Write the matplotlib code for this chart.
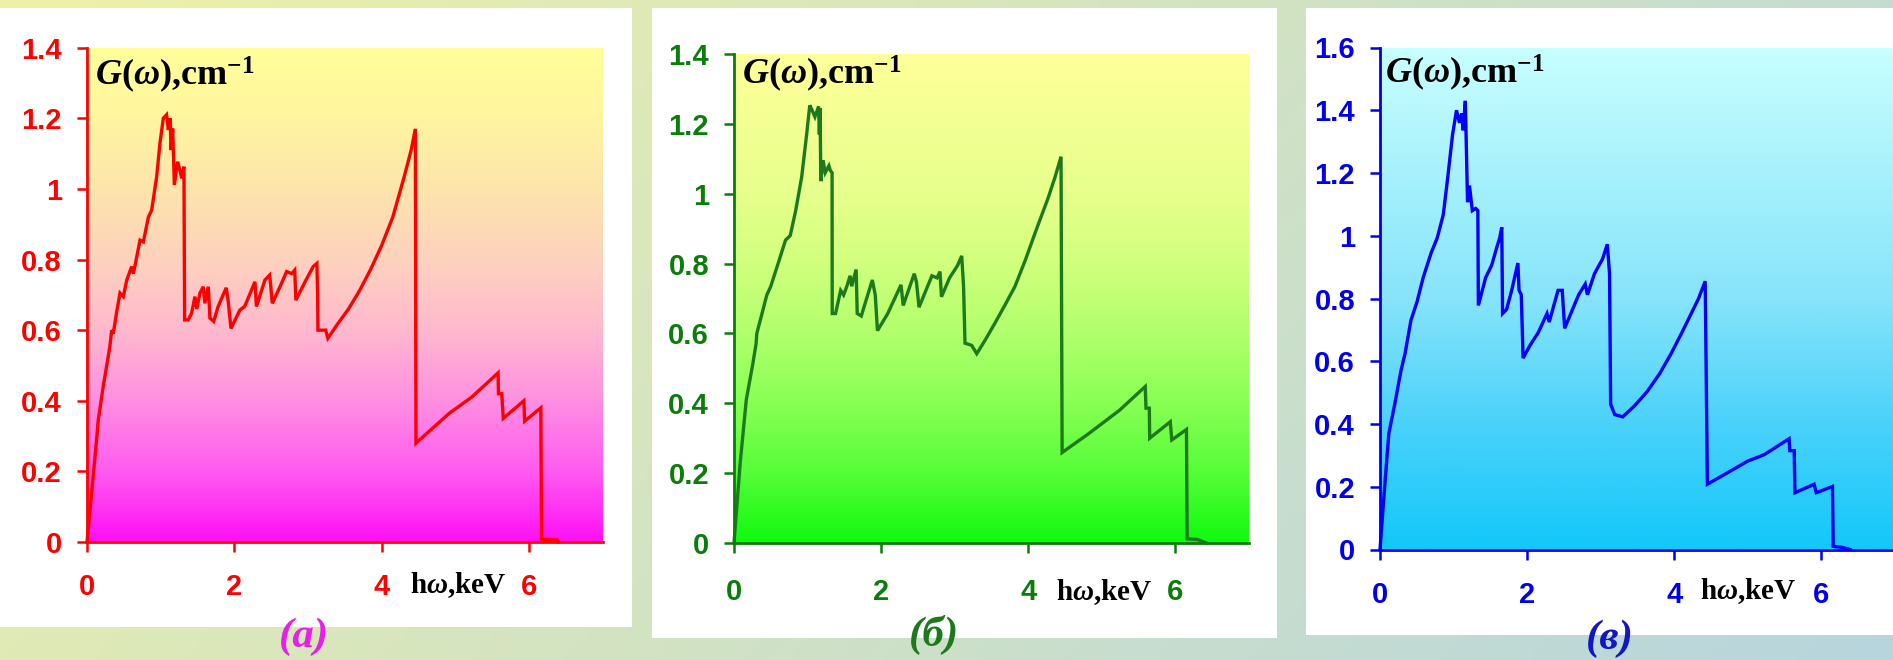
import numpy as np
import matplotlib
matplotlib.use("Agg")
import matplotlib.pyplot as plt
from matplotlib.colors import LinearSegmentedColormap
from matplotlib.patches import Rectangle

# ---------------- data ----------------
a_x = [0, 0.05, 0.13, 0.153, 0.22, 0.31, 0.335, 0.357, 0.40, 0.448,
       0.493, 0.54, 0.606, 0.63, 0.72, 0.765, 0.833, 0.878, 0.946, 0.99,
       1.036, 1.08, 1.104, 1.13, 1.14, 1.163, 1.186, 1.23, 1.26, 1.285,
       1.316, 1.325, 1.375, 1.42, 1.465, 1.49, 1.533, 1.578, 1.60, 1.646,
       1.669, 1.72, 1.78, 1.89, 1.92, 1.954, 2.076, 2.14, 2.28, 2.30,
       2.415, 2.48, 2.515, 2.62, 2.71, 2.78, 2.82, 2.835, 2.96, 3.07,
       3.12, 3.13, 3.135, 3.20, 3.24, 3.27, 3.40, 3.55, 3.70, 3.85,
       4.00, 4.15, 4.30, 4.40, 4.457, 4.465, 4.92, 5.22, 5.58, 5.585,
       5.63, 5.65, 5.93, 5.94, 6.16, 6.17, 6.38, 6.40]
a_y = [0, 0.11, 0.29, 0.346, 0.44, 0.553, 0.60, 0.59, 0.648, 0.705,
       0.695, 0.742, 0.78, 0.76, 0.855, 0.85, 0.92, 0.94, 1.035, 1.129,
       1.20, 1.21, 1.167, 1.20, 1.11, 1.171, 1.011, 1.077, 1.054, 1.03,
       1.063, 0.629, 0.629, 0.648, 0.695, 0.66, 0.705, 0.723, 0.676, 0.723,
       0.634, 0.625, 0.667, 0.72, 0.676, 0.605, 0.657, 0.667, 0.737, 0.667,
       0.742, 0.756, 0.676, 0.723, 0.766, 0.76, 0.77, 0.685, 0.737, 0.78,
       0.789, 0.705, 0.60, 0.60, 0.60, 0.577, 0.617, 0.66, 0.712, 0.772,
       0.84, 0.92, 1.03, 1.11, 1.17, 0.28, 0.365, 0.41, 0.479, 0.42,
       0.42, 0.35, 0.40, 0.342, 0.38, 0.008, 0.006, 0.0]

b_x = [0, 0.084, 0.167, 0.25, 0.30, 0.31, 0.36, 0.446, 0.50, 0.61,
       0.70, 0.764, 0.837, 0.92, 0.987, 1.03, 1.06, 1.10, 1.15, 1.16,
       1.17, 1.18, 1.21, 1.24, 1.29, 1.31, 1.333, 1.335, 1.38, 1.45,
       1.49, 1.534, 1.578, 1.60, 1.66, 1.675, 1.73, 1.88, 1.92, 1.95,
       2.09, 2.27, 2.30, 2.45, 2.48, 2.515, 2.69, 2.76, 2.80, 2.82,
       2.93, 3.04, 3.095, 3.12, 3.14, 3.23, 3.30, 3.42, 3.54, 3.68,
       3.82, 3.96, 4.10, 4.27, 4.36, 4.445, 4.46, 4.82, 5.24, 5.59,
       5.60, 5.645, 5.65, 5.93, 5.95, 6.15, 6.16, 6.30, 6.42]
b_y = [0, 0.229, 0.41, 0.506, 0.57, 0.60, 0.64, 0.71, 0.735, 0.807,
       0.867, 0.88, 0.95, 1.048, 1.169, 1.253, 1.24, 1.22, 1.25, 1.17,
       1.245, 1.036, 1.096, 1.06, 1.08, 1.066, 1.06, 0.657, 0.657, 0.723,
       0.71, 0.735, 0.765, 0.735, 0.783, 0.657, 0.65, 0.753, 0.71, 0.608,
       0.657, 0.739, 0.68, 0.771, 0.747, 0.675, 0.765, 0.759, 0.777, 0.705,
       0.759, 0.795, 0.822, 0.735, 0.572, 0.566, 0.542, 0.583, 0.627, 0.68,
       0.735, 0.81, 0.892, 0.988, 1.045, 1.106, 0.259, 0.313, 0.38, 0.448,
       0.386, 0.386, 0.30, 0.347, 0.295, 0.325, 0.012, 0.01, 0.0]

c_x = [0, 0.066, 0.12, 0.20, 0.285, 0.34, 0.42, 0.504, 0.586, 0.696,
       0.778, 0.86, 0.915, 0.986, 1.04, 1.08, 1.11, 1.13, 1.16, 1.19,
       1.216, 1.255, 1.30, 1.33, 1.337, 1.435, 1.518, 1.60, 1.627, 1.655,
       1.666, 1.72, 1.79, 1.874, 1.89, 1.92, 1.945, 2.04, 2.15, 2.27,
       2.30, 2.42, 2.477, 2.51, 2.70, 2.79, 2.82, 2.915, 3.025, 3.09,
       3.12, 3.135, 3.19, 3.30, 3.46, 3.63, 3.80, 3.956, 4.10, 4.23,
       4.33, 4.42, 4.45, 5.0, 5.22, 5.56, 5.57, 5.63, 5.64, 5.90,
       5.93, 6.15, 6.16, 6.28, 6.39]
c_y = [0, 0.208, 0.37, 0.463, 0.57, 0.624, 0.73, 0.79, 0.866, 0.946,
       0.993, 1.067, 1.174, 1.322, 1.40, 1.36, 1.39, 1.336, 1.43, 1.107,
       1.16, 1.08, 1.087, 1.08, 0.778, 0.866, 0.906, 0.973, 0.993, 1.027,
       0.752, 0.765, 0.826, 0.913, 0.826, 0.812, 0.61, 0.651, 0.691, 0.752,
       0.725, 0.826, 0.826, 0.705, 0.812, 0.846, 0.812, 0.879, 0.926, 0.973,
       0.879, 0.463, 0.43, 0.423, 0.458, 0.503, 0.56, 0.624, 0.69, 0.752,
       0.80, 0.855, 0.208, 0.282, 0.302, 0.353, 0.315, 0.315, 0.181, 0.208,
       0.181, 0.201, 0.01, 0.007, 0.0]

x_ticks = [0, 2, 4, 6]
x_ticklabels = ["0", "2", "4", "6"]
y_ticks_14 = [0, 0.2, 0.4, 0.6, 0.8, 1.0, 1.2, 1.4]
y_ticklabels_14 = ["0", "0.2", "0.4", "0.6", "0.8", "1", "1.2", "1.4"]
y_ticks_16 = [0, 0.2, 0.4, 0.6, 0.8, 1.0, 1.2, 1.4, 1.6]
y_ticklabels_16 = ["0", "0.2", "0.4", "0.6", "0.8", "1", "1.2", "1.4", "1.6"]
y_label = r"$G(\omega)$,cm$^{-1}$"
x_label = r"h$\omega$,keV"
tags = ["(a)", "(б)", "(в)"]

# ---------------- style ----------------
plt.rcParams["mathtext.fontset"] = "custom"
plt.rcParams["mathtext.rm"] = "Liberation Serif:bold"
plt.rcParams["mathtext.it"] = "Liberation Serif:italic:bold"
plt.rcParams["mathtext.bf"] = "Liberation Serif:bold"

W, H = 1893, 660
fig = plt.figure(figsize=(W / 100, H / 100), dpi=100)


def fx(px):
    return px / W


def fy(py):
    return 1 - py / H


# outer background gradient
bg = fig.add_axes([0, 0, 1, 1], zorder=-10)
u = np.linspace(0, 1, 300)
v = np.linspace(0, 1, 120)
U, V = np.meshgrid(u, v)
t = 0.75 * U + 0.25 * V
c0 = np.array([238, 241, 168]) / 255
c1 = np.array([183, 213, 222]) / 255
img = c0[None, None, :] * (1 - t[..., None]) + c1[None, None, :] * t[..., None]
bg.imshow(img, extent=[0, 1, 0, 1], aspect="auto", origin="upper")
bg.set_xlim(0, 1)
bg.set_ylim(0, 1)
bg.axis("off")


def white_box(x0, y0, x1, y1):
    bg.add_patch(Rectangle((fx(x0), fy(y1)), (x1 - x0) / W, (y1 - y0) / H,
                           facecolor="white", edgecolor="none", transform=bg.transAxes))


def mk_cmap(stops):
    return LinearSegmentedColormap.from_list(
        "g", [(p, np.array(c) / 255) for p, c in stops])


cmap_a = mk_cmap([(0, (255, 255, 153)), (0.14, (255, 245, 160)), (0.29, (253, 228, 172)),
                  (0.43, (254, 210, 190)), (0.57, (255, 185, 206)), (0.71, (255, 145, 225)),
                  (0.86, (255, 90, 240)), (1, (255, 15, 245))])
cmap_b = mk_cmap([(0, (255, 255, 153)), (0.29, (230, 255, 140)), (0.43, (208, 255, 125)),
                  (0.57, (178, 255, 108)), (0.71, (138, 255, 85)), (0.86, (85, 253, 55)),
                  (1, (15, 250, 15))])
cmap_c = mk_cmap([(0, (200, 255, 255)), (0.5, (135, 228, 250)), (0.75, (75, 210, 250)),
                  (1, (18, 200, 250))])

panels = [
    dict(x=a_x, y=a_y, ymax=1.4, yt=y_ticks_14, ytl=y_ticklabels_14,
         box=(0, 8, 632, 627), ax=(87, 47.7, 602.7, 542), line="#FF0000", col="#FF0000",
         cmap=cmap_a, g=(95, 85), hw=(410, 593), tagpos=(304, 637), tagcol="#E620E6",
         xpad=15),
    dict(x=b_x, y=b_y, ymax=1.4, yt=y_ticks_14, ytl=y_ticklabels_14,
         box=(652, 8.4, 1277, 638), ax=(734, 54, 1249, 543), line="#1C7A1C", col="#0A7D0A",
         cmap=cmap_b, g=(742, 84), hw=(1056, 600), tagpos=(934, 635), tagcol="#1C7A1C",
         xpad=18),
    dict(x=c_x, y=c_y, ymax=1.6, yt=y_ticks_16, ytl=y_ticklabels_16,
         box=(1306, 8.4, 1893, 635), ax=(1380, 47.5, 1895, 549.5), line="#0000FF", col="#0000EE",
         cmap=cmap_c, g=(1385, 83), hw=(1700, 599), tagpos=(1610, 639), tagcol="#1414C8",
         xpad=16),
]

tick_font = dict(family="Liberation Sans", weight="bold", size=21)

for i, p in enumerate(panels):
    white_box(*p["box"])
    x0, y0, x1, y1 = p["ax"]
    ax = fig.add_axes([fx(x0), fy(y1), (x1 - x0) / W, (y1 - y0) / H])
    ax.set_facecolor("none")
    grad = np.linspace(0, 1, 256)[:, None]
    ax.imshow(grad, extent=[0, 7, 0, p["ymax"]], aspect="auto", cmap=p["cmap"],
              origin="upper", zorder=0)
    ax.plot(p["x"], p["y"], color=p["line"], lw=2.4, zorder=3, clip_on=False,
            solid_joinstyle="miter")
    ax.set_xlim(0, 7)
    ax.set_ylim(0, p["ymax"])
    for s in ["top", "right"]:
        ax.spines[s].set_visible(False)
    for s in ["left", "bottom"]:
        ax.spines[s].set_color(p["col"])
        ax.spines[s].set_linewidth(2.0)
        ax.spines[s].set_zorder(4)
    ax.set_xticks(x_ticks)
    ax.set_xticklabels(x_ticklabels, fontdict=tick_font, color=p["col"])
    ax.set_yticks(p["yt"])
    ax.set_yticklabels(p["ytl"], fontdict=tick_font, color=p["col"])
    ax.tick_params(axis="both", direction="out", length=7, width=1.8, color=p["col"])
    ax.tick_params(axis="y", pad=11)
    ax.tick_params(axis="x", pad=p["xpad"])

    fig.text(fx(p["g"][0]), fy(p["g"][1]), y_label, ha="left", va="baseline",
             fontsize=26, family="Liberation Serif", weight="bold", color="black")
    fig.text(fx(p["hw"][0]), fy(p["hw"][1]), x_label, ha="left", va="baseline",
             fontsize=21, family="Liberation Serif", weight="bold", color="black")
    fig.text(fx(p["tagpos"][0]), fy(p["tagpos"][1]), tags[i], ha="center", va="center",
             fontsize=31, family="Liberation Serif", weight="bold", style="italic",
             color=p["tagcol"])

fig.savefig("out.png", dpi=100)
